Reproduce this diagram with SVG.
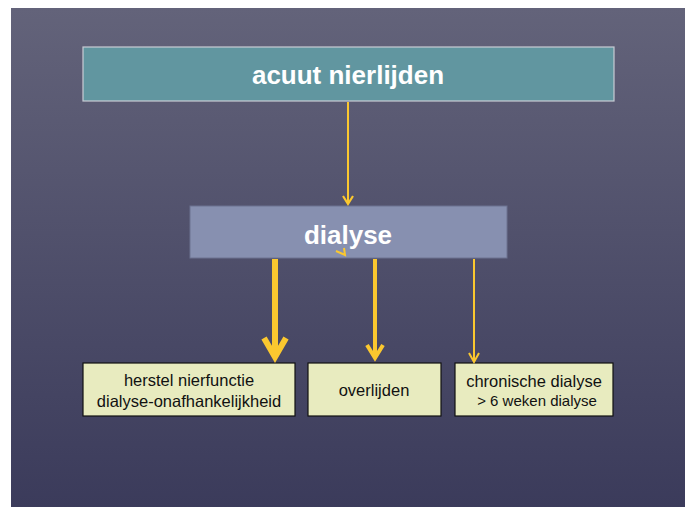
<svg xmlns="http://www.w3.org/2000/svg" width="689" height="507" viewBox="0 0 689 507">
<defs>
<linearGradient id="bg" x1="0" y1="0" x2="0" y2="1">
<stop offset="0" stop-color="#63637a"/>
<stop offset="1" stop-color="#3b3b5b"/>
</linearGradient>
<style>
.t{font-family:"Liberation Sans",Arial,sans-serif;text-anchor:middle}
.h{font-size:26px;font-weight:bold;fill:#ffffff}
.s{font-size:16.5px;fill:#111111}
.box{fill:#e8ebbf;stroke:#111111;stroke-width:1.2}
.y{stroke:#fbc82f;fill:none;stroke-linecap:butt}
</style>
</defs>
<rect x="0" y="0" width="689" height="507" fill="#ffffff"/>
<rect x="11" y="8" width="674" height="499" fill="url(#bg)"/>
<g id="acuut">
<rect x="83" y="47" width="531" height="54" fill="#6196a0" stroke="#c8ccd4" stroke-width="1.2"/>
<text class="t h" x="348" y="84">acuut nierlijden</text>
</g>
<g id="dialyse">
<rect x="190" y="206" width="317" height="52" fill="#8790b0" stroke="#6c7390" stroke-width="1"/>
<text class="t h" x="348" y="244">dialyse</text>
</g>
<g id="herstel">
<rect class="box" x="83" y="363" width="212" height="53"/>
<text class="t s" x="189" y="386">herstel nierfunctie</text>
<text class="t s" x="189" y="407">dialyse-onafhankelijkheid</text>
</g>
<g id="overlijden">
<rect class="box" x="308" y="363" width="133" height="53"/>
<text class="t s" x="374" y="396">overlijden</text>
</g>
<g id="chronisch">
<rect class="box" x="455" y="363" width="158" height="53"/>
<text class="t s" x="534" y="387">chronische dialyse</text>
<text class="t" x="537" y="406" style="font-size:15px;fill:#111111">&gt; 6 weken dialyse</text>
</g>
<g id="connectors">
<line class="y" x1="348" y1="102" x2="348" y2="204" stroke-width="2"/>
<path class="y" d="M343 196 L348 204 L353 196" stroke-width="2.2"/>
<path class="y" d="M336 251 L345 255 L344 248" stroke-width="2"/>
<line class="y" x1="275" y1="259" x2="275" y2="356" stroke-width="6"/>
<path class="y" d="M264 338 L275 357 L286 338" stroke-width="6" stroke-linejoin="miter"/>
<line class="y" x1="375" y1="259" x2="375" y2="357" stroke-width="4"/>
<path class="y" d="M367 345 L375 358 L383 345" stroke-width="4"/>
<line class="y" x1="474" y1="259" x2="474" y2="361" stroke-width="2"/>
<path class="y" d="M469 353 L474 362 L479 353" stroke-width="2"/>
</g>
</svg>
